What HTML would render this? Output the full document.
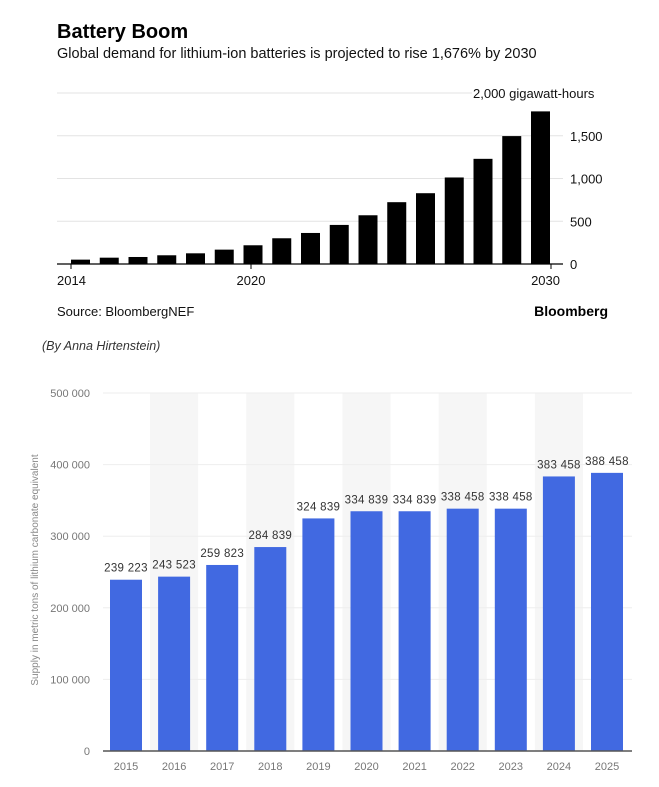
<!DOCTYPE html>
<html><head><meta charset="utf-8"><style>
body{margin:0;width:659px;height:787px;background:#fff;overflow:hidden;font-family:"Liberation Sans",sans-serif}
svg{position:absolute;left:0;top:0}
</style></head><body>
<svg id="s" width="659" height="787">
<text x="57" y="38" font-size="20" font-weight="bold" fill="#000">Battery Boom</text>
<text x="57" y="58" font-size="14.5" fill="#111">Global demand for lithium-ion batteries is projected to rise 1,676% by 2030</text>
<text x="473" y="98" font-size="13" fill="#111">2,000 gigawatt-hours</text>
<g id="top"></g>
<text x="57" y="316" font-size="13" fill="#111">Source: BloombergNEF</text>
<text x="608" y="316" font-size="14" font-weight="bold" text-anchor="end" fill="#000">Bloomberg</text>
<text x="42" y="350" font-size="12.5" font-style="italic" fill="#333">(By Anna Hirtenstein)</text>
<g id="bot"></g>
<text transform="translate(38,570) rotate(-90)" font-size="10" fill="#888" text-anchor="middle">Supply in metric tons of lithium carbonate equivalent</text>
</svg>
<script>
const topYears=[2014,2015,2016,2017,2018,2019,2020,2021,2022,2023,2024,2025,2026,2027,2028,2029,2030];
const topValues=[51,74,82,102,125,168,219,301,363,457,570,723,828,1012,1230,1496,1785];
const topTicks=[0,500,1000,1500];
const botYears=[2015,2016,2017,2018,2019,2020,2021,2022,2023,2024,2025];
const botValues=[239223,243523,259823,284839,324839,334839,334839,338458,338458,383458,388458];
const botTicks=[0,100000,200000,300000,400000,500000];
const NS="http://www.w3.org/2000/svg";
function mk(p,t,a,txt){const e=document.createElementNS(NS,t);for(const k in a)e.setAttribute(k,a[k]);if(txt!=null)e.textContent=txt;p.appendChild(e);return e;}
// top chart
const T=document.getElementById('top');
const ty=v=>264-v*(171/2000);
const tx=i=>71+i*28.75;
mk(T,'line',{x1:57,x2:472,y1:ty(2000),y2:ty(2000),stroke:'#e3e3e3','stroke-width':1});
topTicks.forEach(v=>{
 if(v>0){const l=mk(T,'line',{x1:57,x2:563,y1:ty(v),y2:ty(v),stroke:'#e3e3e3','stroke-width':1});
 
 }
 const t=mk(T,'text',{x:570,y:ty(v)+5,'font-size':13,fill:'#111'},v.toLocaleString('en-US'));
 
 
});
topValues.forEach((v,i)=>{
 const r=mk(T,'rect',{x:tx(i),y:ty(v),width:19,height:264-ty(v),fill:'#000'});
 
 
});
mk(T,'line',{x1:57,x2:563,y1:264,y2:264,stroke:'#000','stroke-width':1.3});
[[0,71],[6,251],[16,551]].forEach(([i,x])=>{
 mk(T,'line',{x1:x,x2:x,y1:264,y2:269,stroke:'#000'});
 const t=mk(T,'text',{x:x,y:285,'font-size':13,fill:'#111','text-anchor':i==0?'start':(i==16?'end':'middle')},topYears[i]);
 if(i==0)t.setAttribute('x',57);if(i==16)t.setAttribute('x',560);
 
 
});
// bottom chart
const B=document.getElementById('bot');
const by=v=>751-v*(358/500000);
const bx=i=>126+i*48.1;
botYears.forEach((y,i)=>{if(i%2==1){const b=mk(B,'rect',{x:bx(i)-24,y:by(500000),width:48,height:358,fill:'#f6f6f6'});
 
 }});
botTicks.forEach(v=>{
 const l=mk(B,'line',{x1:103,x2:632,y1:by(v),y2:by(v),stroke:'#eeeeee'});
 
 
 const t=mk(B,'text',{x:90,y:by(v)+4,'font-size':11,fill:'#777','text-anchor':'end'},v.toLocaleString('en-US').replace(/,/g,' '));
 
 
});
botValues.forEach((v,i)=>{
 const r=mk(B,'rect',{x:bx(i)-16,y:by(v),width:32,height:751-by(v),fill:'#4169e1'});
 
 
 const t=mk(B,'text',{x:bx(i),y:by(v)-8,'font-size':11.5,fill:'#333','text-anchor':'middle','letter-spacing':'0.3'},v.toLocaleString('en-US').replace(/,/g,' '));
 
 
 const y=mk(B,'text',{x:bx(i),y:770,'font-size':11,fill:'#777','text-anchor':'middle'},botYears[i]);
 
 
});
mk(B,'line',{x1:103,x2:632,y1:751,y2:751,stroke:'#555','stroke-width':1.5});
</script>
</body></html>
